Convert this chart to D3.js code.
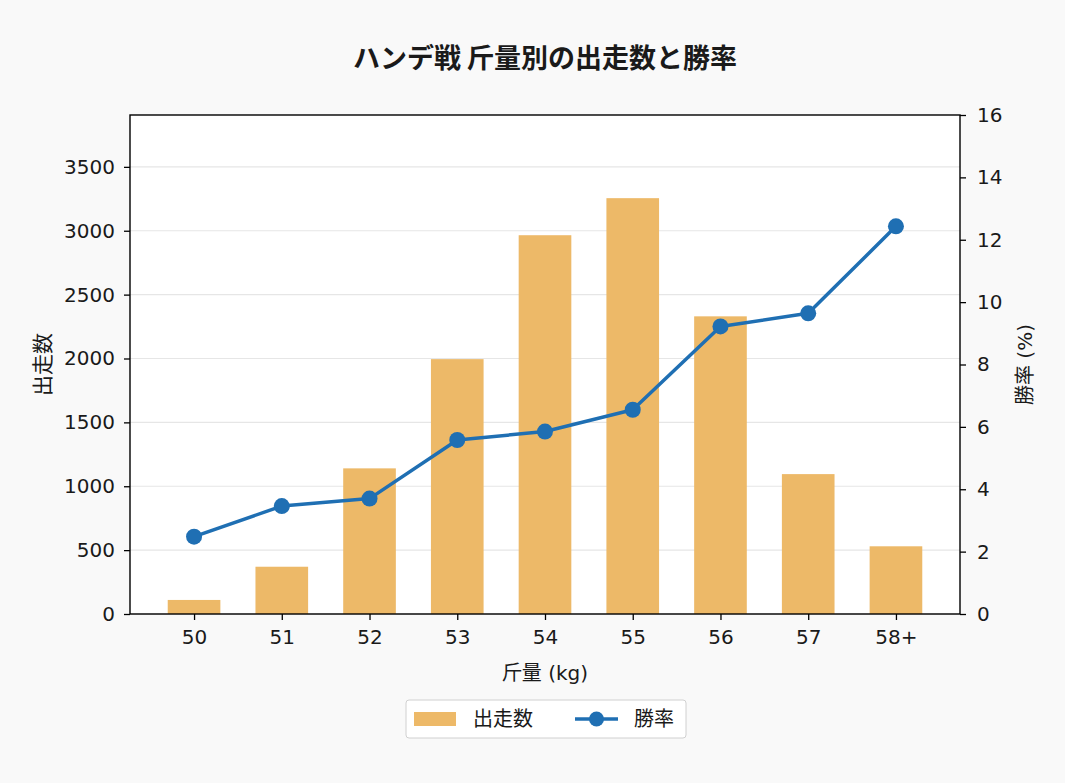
<!DOCTYPE html>
<html>
<head>
<meta charset="utf-8">
<script src="https://cdn.jsdelivr.net/npm/d3@7"></script>
<style>
  body { margin: 0; background: #f9f9f9; }
  svg text { font-family: "DejaVu Sans", "Noto Sans CJK JP", sans-serif; fill: #1a1a1a; }
  svg text.jp { font-family: "Noto Sans CJK JP", sans-serif; }
</style>
</head>
<body>
<svg id="chart" width="1065" height="783"></svg>
<script>
// Data
const weights = ['50', '51', '52', '53', '54', '55', '56', '57', '58+'];
const runs = [110, 370, 1140, 1995, 2965, 3255, 2330, 1095, 530];
const winRate = [2.48, 3.46, 3.70, 5.58, 5.85, 6.55, 9.22, 9.64, 12.43];
const leftTicks = [0, 500, 1000, 1500, 2000, 2500, 3000, 3500];
const rightTicks = [0, 2, 4, 6, 8, 10, 12, 14, 16];

const plot = { left: 130, right: 960, top: 115, bottom: 614 };
const barColor = '#edb968';
const lineColor = '#1f6fb3';

const svg = d3.select('#chart');

// Scales
const x = d3.scalePoint()
    .domain(weights)
    .range([plot.left, plot.right])
    .padding(0.73);
const barW = x.step() * 0.6;

const yLeft = d3.scaleLinear()
    .domain([0, d3.max(runs) * 1.2])
    .range([plot.bottom, plot.top]);

const yRight = d3.scaleLinear()
    .domain([0, 16])
    .range([plot.bottom, plot.top]);

// Plot background
svg.append('rect')
    .attr('x', plot.left)
    .attr('y', plot.top)
    .attr('width', plot.right - plot.left)
    .attr('height', plot.bottom - plot.top)
    .attr('fill', '#ffffff');

// Gridlines
svg.append('g')
    .selectAll('line')
    .data(leftTicks)
    .enter()
    .append('line')
    .attr('x1', plot.left)
    .attr('x2', plot.right)
    .attr('y1', d => yLeft(d))
    .attr('y2', d => yLeft(d))
    .attr('stroke', '#e6e6e6')
    .attr('stroke-width', 1.2);

// Bars
svg.append('g')
    .selectAll('rect')
    .data(runs)
    .enter()
    .append('rect')
    .attr('x', (d, i) => x(weights[i]) - barW / 2)
    .attr('y', d => yLeft(d))
    .attr('width', barW)
    .attr('height', d => plot.bottom - yLeft(d))
    .attr('fill', barColor);

// Win rate line
const line = d3.line()
    .x((d, i) => x(weights[i]))
    .y(d => yRight(d));

svg.append('path')
    .datum(winRate)
    .attr('d', line)
    .attr('fill', 'none')
    .attr('stroke', lineColor)
    .attr('stroke-width', 3.5)
    .attr('stroke-linejoin', 'round');

svg.append('g')
    .selectAll('circle')
    .data(winRate)
    .enter()
    .append('circle')
    .attr('cx', (d, i) => x(weights[i]))
    .attr('cy', d => yRight(d))
    .attr('r', 8)
    .attr('fill', lineColor);

// Axes
const axisX = svg.append('g')
    .attr('transform', `translate(0,${plot.bottom})`)
    .call(d3.axisBottom(x).tickSize(6).tickPadding(10));

const axisL = svg.append('g')
    .attr('transform', `translate(${plot.left},0)`)
    .call(d3.axisLeft(yLeft).tickValues(leftTicks).tickFormat(d3.format('d')).tickSize(6).tickPadding(9));

const axisR = svg.append('g')
    .attr('transform', `translate(${plot.right},0)`)
    .call(d3.axisRight(yRight).tickValues(rightTicks).tickFormat(d3.format('d')).tickSize(6).tickPadding(11));

[axisX, axisL, axisR].forEach(a => {
    a.select('.domain').remove();
    a.selectAll('.tick line').attr('stroke', '#000').attr('stroke-width', 1.3);
    a.selectAll('.tick text')
        .style('font-size', '20px')
        .style('font-family', '"DejaVu Sans", sans-serif')
        .attr('fill', '#1a1a1a');
});

// Frame
svg.append('rect')
    .attr('x', plot.left)
    .attr('y', plot.top)
    .attr('width', plot.right - plot.left)
    .attr('height', plot.bottom - plot.top)
    .attr('fill', 'none')
    .attr('stroke', '#000')
    .attr('stroke-width', 1.4);

// Title and labels
svg.append('text')
    .attr('class', 'jp')
    .attr('x', (plot.left + plot.right) / 2)
    .attr('y', 68)
    .attr('text-anchor', 'middle')
    .style('font-size', '27px')
    .style('font-weight', 'bold')
    .text('ハンデ戦 斤量別の出走数と勝率');

svg.append('text')
    .attr('x', (plot.left + plot.right) / 2)
    .attr('y', 680)
    .attr('text-anchor', 'middle')
    .style('font-size', '20px')
    .text('斤量 (kg)');

svg.append('text')
    .attr('class', 'jp')
    .attr('transform', `translate(50,${(plot.top + plot.bottom) / 2}) rotate(-90)`)
    .attr('text-anchor', 'middle')
    .style('font-size', '21px')
    .text('出走数');

svg.append('text')
    .attr('transform', `translate(1032,${(plot.top + plot.bottom) / 2}) rotate(-90)`)
    .attr('text-anchor', 'middle')
    .style('font-size', '20px')
    .text('勝率 (%)');

// Legend
const legend = svg.append('g').attr('transform', 'translate(406,700)');
legend.append('rect')
    .attr('width', 280)
    .attr('height', 38)
    .attr('rx', 3)
    .attr('fill', '#ffffff')
    .attr('stroke', '#d0d0d0');
legend.append('rect')
    .attr('x', 8)
    .attr('y', 12)
    .attr('width', 42)
    .attr('height', 14)
    .attr('fill', barColor);
legend.append('text')
    .attr('class', 'jp')
    .attr('x', 67)
    .attr('y', 26)
    .style('font-size', '20px')
    .text('出走数');
legend.append('line')
    .attr('x1', 169)
    .attr('x2', 212)
    .attr('y1', 19)
    .attr('y2', 19)
    .attr('stroke', lineColor)
    .attr('stroke-width', 3.5);
legend.append('circle')
    .attr('cx', 190.5)
    .attr('cy', 19)
    .attr('r', 7.5)
    .attr('fill', lineColor);
legend.append('text')
    .attr('class', 'jp')
    .attr('x', 228)
    .attr('y', 26)
    .style('font-size', '20px')
    .text('勝率');
</script>
</body>
</html>
